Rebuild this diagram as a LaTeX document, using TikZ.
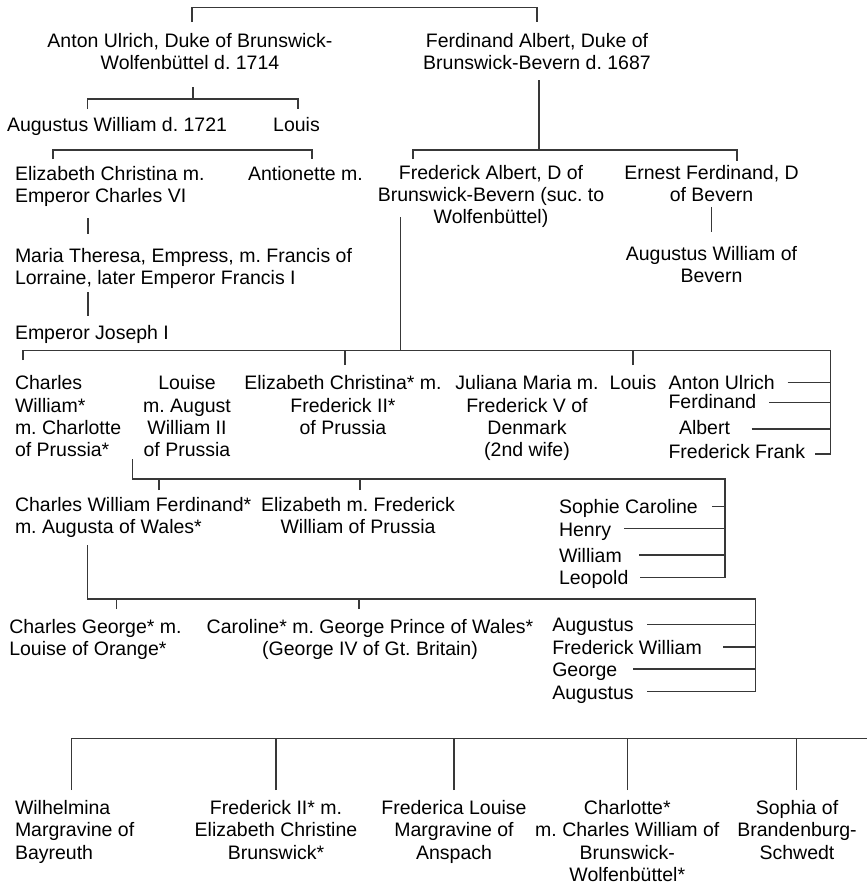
\documentclass[tikz,border=0pt]{standalone}
\usepackage{fontspec}
\setmainfont{Liberation Sans}
\newcommand\fl{\rule{0pt}{15pt}}
\frenchspacing
\begin{document}
\begin{tikzpicture}[x=1pt,y=-1pt,
  conn/.style={draw=black!78,line width=1.05pt},
  txt/.style={inner sep=0pt,outer sep=0pt,font=\fontsize{19.5}{22.4}\selectfont\frenchspacing},
  tc/.style={txt,anchor=north,align=center},
  tl/.style={txt,anchor=north west,align=left}]
\useasboundingbox (0,0) rectangle (867,886);
% ---------- nodes ----------
\node[tc] (anton) at (190,32) {\fl Anton Ulrich, Duke of Brunswick-\\Wolfenbüttel d. 1714};
\node[tc] (ferd) at (537,32) {\fl Ferdinand Albert, Duke of\\Brunswick-Bevern d. 1687};
\node[tl] (augw) at (7,116) {\fl Augustus William d. 1721};
\node[tc] (louisA) at (296.5,116) {\fl Louis};
\node[tl] (elizc) at (15,165) {\fl Elizabeth Christina m.\\Emperor Charles VI};
\node[tl] (antio) at (248,165) {\fl Antionette m.};
\node[tl] (maria) at (15,247) {\fl Maria Theresa, Empress, m. Francis of\\Lorraine, later Emperor Francis I};
\node[tl] (joseph) at (15,324) {\fl Emperor Joseph I};
\node[tc] (fredalb) at (491,164) {\fl Frederick Albert, D of\\Brunswick-Bevern (suc. to\\Wolfenbüttel)};
\node[tc] (ernest) at (711.5,164) {\fl Ernest Ferdinand, D\\of Bevern};
\node[tc] (augbev) at (711.5,245) {\fl Augustus William of\\Bevern};
\node[tl] (charlesw) at (15,374.7) {\fl Charles\\William*\\m. Charlotte\\of Prussia*};
\node[tc] (louise) at (187,374.7) {\fl Louise\\m. August\\William II\\of Prussia};
\node[tc] (elizcb) at (343,374.7) {\fl Elizabeth Christina* m.\\Frederick II*\\of Prussia};
\node[tc] (juliana) at (527,374.7) {\fl Juliana Maria m.\\Frederick V of\\Denmark\\(2nd wife)};
\node[tc] (louisB) at (633,374.7) {\fl Louis};
\node[tl] (antonb) at (668.5,374.2) {\fl Anton Ulrich};
\node[tl] (ferdb) at (668.5,393.5) {\fl Ferdinand};
\node[tl] (albert) at (679,419.2) {\fl Albert};
\node[tl] (fredfrank) at (668.5,443.3) {\fl Frederick Frank};
\node[tl] (cwf) at (15,496) {\fl Charles William Ferdinand*\\m. Augusta of Wales*};
\node[tc] (elizfw) at (358,496) {\fl Elizabeth m. Frederick\\William of Prussia};
\node[tl] (sophie) at (559,498.7) {\fl Sophie Caroline};
\node[tl] (henry) at (559,521) {\fl Henry};
\node[tl] (william) at (559,547) {\fl William};
\node[tl] (leopold) at (559,569.3) {\fl Leopold};
\node[tl] (charlesg) at (9.3,618) {\fl Charles George* m.\\Louise of Orange*};
\node[tc] (caroline) at (370,618) {\fl Caroline* m. George Prince of Wales*\\(George IV of Gt. Britain)};
\node[tl] (augA) at (552.3,616.5) {\fl Augustus};
\node[tl] (fw) at (552.3,639) {\fl Frederick William};
\node[tl] (george) at (552.3,661) {\fl George};
\node[tl] (augB) at (552.3,684) {\fl Augustus};
\node[tl] (wilh) at (15,799.3) {\fl Wilhelmina\\Margravine of\\Bayreuth};
\node[tc] (fredii) at (276,799.3) {\fl Frederick II* m.\\Elizabeth Christine\\Brunswick*};
\node[tc] (frederica) at (454,799.3) {\fl Frederica Louise\\Margravine of\\Anspach};
\node[tc] (charlotte) at (627.3,799.3) {\fl Charlotte*\\m. Charles William of\\Brunswick-\\Wolfenbüttel*};
\node[tc] (sophia) at (797,799.3) {\fl Sophia of\\Brandenburg-\\Schwedt};
% ---------- coordinates ----------
\coordinate (t1) at (192,22);   \coordinate (t2) at (537,22);
\coordinate (a0) at (193,87);   \coordinate (a1) at (193,99);
\coordinate (a2) at (87.5,109); \coordinate (a3) at (298,109);
\coordinate (b1) at (53,159);   \coordinate (b2) at (312,159);
\coordinate (m0) at (88,218);   \coordinate (m1) at (88,234);
\coordinate (j0) at (88,292);   \coordinate (j1) at (88,316);
\coordinate (f0) at (539,80);   \coordinate (f1) at (539,150);
\coordinate (f2) at (413,159);  \coordinate (f3) at (737,161);
\coordinate (e0) at (711.7,207);\coordinate (e1) at (711.7,232);
\coordinate (g0) at (400.7,217);\coordinate (g1) at (400.7,350.7);
\coordinate (g2) at (23,360);   \coordinate (g3) at (345,365);
\coordinate (g4) at (633,365);  \coordinate (g5) at (830.7,350.7);
\coordinate (r1) at (787.7,382.3); \coordinate (r2) at (769,402.7);
\coordinate (r3) at (751.7,429);   \coordinate (r4) at (815,454);
\coordinate (h0) at (132.7,459);\coordinate (h1) at (132.7,479);
\coordinate (h2) at (159,490);  \coordinate (h3) at (360,490);
\coordinate (h4) at (725,479);
\coordinate (s1) at (712,506.3);  \coordinate (s2) at (624,528.5);
\coordinate (s3) at (639,555);    \coordinate (s4) at (639.7,577.3);
\coordinate (k0) at (87.7,545); \coordinate (k1) at (87.7,599);
\coordinate (k2) at (116.7,609);\coordinate (k3) at (359,609);
\coordinate (k4) at (755.7,599);
\coordinate (u1) at (647.3,624.3);\coordinate (u2) at (723.3,647);
\coordinate (u3) at (633.3,669);  \coordinate (u4) at (647.3,691.7);
\coordinate (w0) at (71.7,790); \coordinate (w1) at (276,790);
\coordinate (w2) at (454,790);  \coordinate (w3) at (627.3,790);
\coordinate (w4) at (796.7,790);\coordinate (wR) at (867,738.3);
% ---------- connectors ----------
\draw[conn] (t1) -- (t1 |- 0,7.5) -- (t2 |- 0,7.5) -- (t2);
\draw[conn] (a0) -- (a1);
\draw[conn] (a2) -- (a2 |- a1) -- (a3 |- a1) -- (a3);
\draw[conn] (b1) -- (b1 |- 0,150) -- (b2 |- 0,150) -- (b2);
\draw[conn] (m0) -- (m1);
\draw[conn] (j0) -- (j1);
\draw[conn] (f0) -- (f1);
\draw[conn] (f2) -- (f2 |- f1) -- (f3 |- f1) -- (f3);
\draw[conn] (e0) -- (e1);
\draw[conn] (g0) -- (g1);
\draw[conn] (g2) -- (g2 |- g1) -- (g5);
\draw[conn] (g3) -- (g3 |- g1);
\draw[conn] (g4) -- (g4 |- g1);
\draw[conn] (g5) -- (g5 |- r4) -- (r4);
\draw[conn] (r1) -- (g5 |- r1);
\draw[conn] (r2) -- (g5 |- r2);
\draw[conn] (r3) -- (g5 |- r3);
\draw[conn] (h0) -- (h1) -- (h4) -- (h4 |- s4) -- (s4);
\draw[conn] (h2) -- (h2 |- h1);
\draw[conn] (h3) -- (h3 |- h1);
\draw[conn] (s1) -- (h4 |- s1);
\draw[conn] (s2) -- (h4 |- s2);
\draw[conn] (s3) -- (h4 |- s3);
\draw[conn] (k0) -- (k1) -- (k4) -- (k4 |- u4) -- (u4);
\draw[conn] (k2) -- (k2 |- k1);
\draw[conn] (k3) -- (k3 |- k1);
\draw[conn] (u1) -- (k4 |- u1);
\draw[conn] (u2) -- (k4 |- u2);
\draw[conn] (u3) -- (k4 |- u3);
\draw[conn] (w0) -- (w0 |- wR) -- (wR);
\draw[conn] (w1) -- (w1 |- wR);
\draw[conn] (w2) -- (w2 |- wR);
\draw[conn] (w3) -- (w3 |- wR);
\draw[conn] (w4) -- (w4 |- wR);
\end{tikzpicture}
\end{document}
